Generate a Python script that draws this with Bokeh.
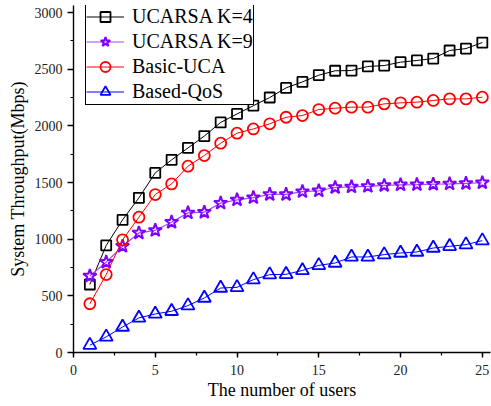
from bokeh.plotting import figure
from bokeh.models import Range1d, SingleIntervalTicker, Legend, LegendItem
from bokeh.embed import file_html
from bokeh.resources import INLINE

users = list(range(1, 26))
ucarsa_k4 = [600, 945, 1170, 1365, 1585, 1700, 1805, 1910, 2030, 2105, 2178, 2250, 2335,
             2388, 2447, 2486, 2488, 2524, 2532, 2562, 2577, 2594, 2665, 2682, 2735]
ucarsa_k9 = [675, 797, 938, 1055, 1078, 1150, 1232, 1238, 1318, 1347, 1367, 1395, 1395,
             1420, 1427, 1456, 1462, 1466, 1474, 1480, 1482, 1485, 1488, 1492, 1498]
basic_uca = [430, 688, 994, 1194, 1394, 1488, 1644, 1738, 1847, 1935, 1973, 2018, 2076,
             2091, 2144, 2156, 2165, 2165, 2194, 2203, 2209, 2224, 2238, 2238, 2253]
based_qos = [65, 138, 225, 305, 340, 364, 414, 481, 569, 575, 643, 687, 690,
             724, 769, 790, 843, 843, 864, 878, 887, 922, 937, 952, 987]
series_names = ["UCARSA K=4", "UCARSA K=9", "Basic-UCA", "Based-QoS"]

FONT = "Liberation Serif"

p = figure(width=491, height=406, output_backend="svg", toolbar_location=None,
           x_range=Range1d(0, 25.5), y_range=Range1d(0, 3062),
           min_border_left=73, min_border_top=5, min_border_bottom=54, min_border_right=1)
p.outline_line_color = None
p.xgrid.visible = False
p.ygrid.visible = False

p.xaxis.ticker = SingleIntervalTicker(interval=5, num_minor_ticks=2)
p.yaxis.ticker = SingleIntervalTicker(interval=500, num_minor_ticks=2)
for ax in (p.xaxis, p.yaxis):
    ax.axis_line_width = 1.4
    ax.major_tick_line_width = 1.4
    ax.minor_tick_line_width = 1.2
    ax.major_tick_in = 0
    ax.minor_tick_in = 0
    ax.major_label_text_font = FONT
    ax.major_label_text_font_size = "14px"
    ax.major_label_text_color = "#222222"
    ax.axis_label_text_font = FONT
    ax.axis_label_text_font_size = "18px"
    ax.axis_label_text_font_style = "normal"
    ax.axis_label_text_color = "black"
p.xaxis.major_tick_out = 5
p.xaxis.minor_tick_out = 3
p.yaxis.major_tick_out = 6
p.yaxis.minor_tick_out = 3
p.xaxis.major_label_standoff = 7
p.yaxis.major_label_standoff = 5
p.xaxis.axis_label = "The number of users"
p.yaxis.axis_label = "System Throughput(Mbps)"
p.xaxis.axis_label_standoff = 2
p.yaxis.axis_label_standoff = 4

items = []
l1 = p.line(users, ucarsa_k4, line_color="black", line_width=1)
m1 = p.scatter(users, ucarsa_k4, marker="square", size=10, line_color="black",
               line_width=1.8, fill_color=None)
items.append(LegendItem(label=series_names[0], renderers=[l1, m1]))

l2 = p.line(users, ucarsa_k9, line_color="#9B4DFF", line_width=1.2)
m2 = p.scatter(users, ucarsa_k9, marker="star", size=14, line_color="#8000FF",
               line_width=2, fill_color=None)
items.append(LegendItem(label=series_names[1], renderers=[l2, m2]))

l3 = p.line(users, basic_uca, line_color="#FF0000", line_width=1)
m3 = p.scatter(users, basic_uca, marker="circle", size=11, line_color="#FF0000",
               line_width=1.8, fill_color=None)
items.append(LegendItem(label=series_names[2], renderers=[l3, m3]))

l4 = p.line(users, based_qos, line_color="#0000FF", line_width=1)
m4 = p.scatter(users, based_qos, marker="triangle", size=13, line_color="#0000FF",
               line_width=1.8, fill_color=None)
items.append(LegendItem(label=series_names[3], renderers=[l4, m4]))

legend = Legend(items=items, location=(12, 247))
legend.border_line_color = "#000000"
legend.border_line_width = 1.5
legend.border_line_alpha = 1.0
legend.background_fill_color = "white"
legend.background_fill_alpha = 1
legend.padding = 0
legend.spacing = 0
legend.margin = 0
legend.glyph_width = 38
legend.glyph_height = 25
legend.label_height = 25
legend.label_standoff = 8
legend.label_text_font = FONT
legend.label_text_font_size = "20px"
legend.label_text_color = "black"
p.add_layout(legend, "center")

open("out.html", "w").write(file_html(p, INLINE))
